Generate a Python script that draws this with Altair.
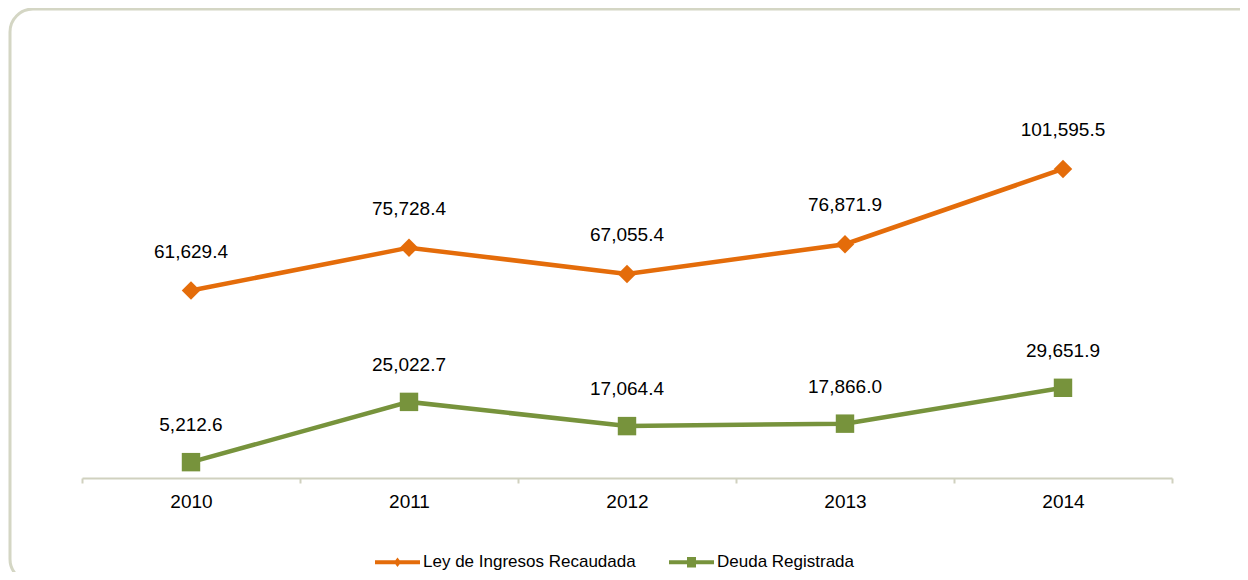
import altair as alt
import pandas as pd

years = ["2010", "2011", "2012", "2013", "2014"]
ley = [61629.4, 75728.4, 67055.4, 76871.9, 101595.5]
deuda = [5212.6, 25022.7, 17064.4, 17866.0, 29651.9]
series = ["Ley de Ingresos Recaudada", "Deuda Registrada"]
colors = ["#E46C0A", "#77933C"]

rows = []
for yr, v in zip(years, ley):
    rows.append({"year": yr, "value": v, "series": series[0], "label": f"{v:,.1f}"})
for yr, v in zip(years, deuda):
    rows.append({"year": yr, "value": v, "series": series[1], "label": f"{v:,.1f}"})
df = pd.DataFrame(rows)

FONT = "Liberation Sans"
W, H = 1090, 365
PL, PT = 74, 105
PR = 1232 - PL - W
PB = 564 - PT - H
AXIS_C = "#D0D1BF"

x = alt.X("year:N", sort=years,
          scale=alt.Scale(type="band", paddingInner=0, paddingOuter=0),
          axis=alt.Axis(title=None, tickBand="extent", domainColor=AXIS_C, domainWidth=2,
                        tickColor=AXIS_C, tickWidth=2, tickSize=5, labelFont=FONT,
                        labelFontSize=19, labelColor="#000000", labelPadding=9,
                        labelAngle=0, grid=False))
y = alt.Y("value:Q", scale=alt.Scale(domain=[0, 120000]), axis=None)
col_scale = alt.Scale(domain=series, range=colors)

base = alt.Chart(df)


def series_layers(name, color, shape, size, dy):
    sub = base.transform_filter(alt.datum.series == name)
    ln = sub.mark_line(strokeWidth=4.5, color=color).encode(x=x, y=y)
    pt = sub.mark_point(shape=shape, filled=True, size=size, opacity=1, color=color).encode(x=x, y=y)
    tx = sub.mark_text(font=FONT, fontSize=19, color="#000000", baseline="alphabetic",
                       dy=dy).encode(x=x, y=y, text="label:N")
    return [ln, pt, tx]


layers_ley = series_layers(series[0], colors[0], "diamond", 340, -33)
layers_deuda = series_layers(series[1], colors[1], "square", 340, -31)

line_path = "M-1,-0.085H1V0.085H-1Z"
diamond_path = "M0,-0.21L0.16,0L0,0.21L-0.16,0Z"
square_path = "M-0.2,-0.23H0.2V0.23H-0.2Z"

leg = alt.Legend(orient="none", legendX=293, legendY=426.5, direction="horizontal")

legend_layer = base.mark_point(filled=True, opacity=0).encode(
    x=x, y=y,
    color=alt.Color("series:N", scale=col_scale, title=None, legend=leg),
    shape=alt.Shape("series:N", title=None,
                    scale=alt.Scale(domain=series,
                                    range=[line_path + " " + diamond_path,
                                           line_path + " " + square_path]),
                    legend=leg))

border = alt.Chart(pd.DataFrame({"k": [0]})).mark_rect(
    fill="transparent", stroke="#D4D6C4", strokeWidth=3, cornerRadius=23).encode(
    x=alt.value(10 - 82), x2=alt.value(1261 - 82),
    y=alt.value(9 - 113), y2=alt.value(582 - 113))

chart = alt.layer(border, *layers_ley, *layers_deuda, legend_layer).properties(
    width=W, height=H,
    autosize=alt.AutoSizeParams(type="none"),
    padding={"left": PL, "top": PT, "right": PR, "bottom": PB},
    background="#FFFFFF",
).configure_view(stroke=None).configure_legend(
    symbolSize=2025, symbolStrokeWidth=0, labelFont=FONT, labelFontSize=17,
    labelColor="#000000", labelOffset=3, labelLimit=500, columnPadding=33, padding=0,
    symbolOpacity=1,
)

chart.save("out.html", embed_options={"renderer": "svg", "actions": False})
